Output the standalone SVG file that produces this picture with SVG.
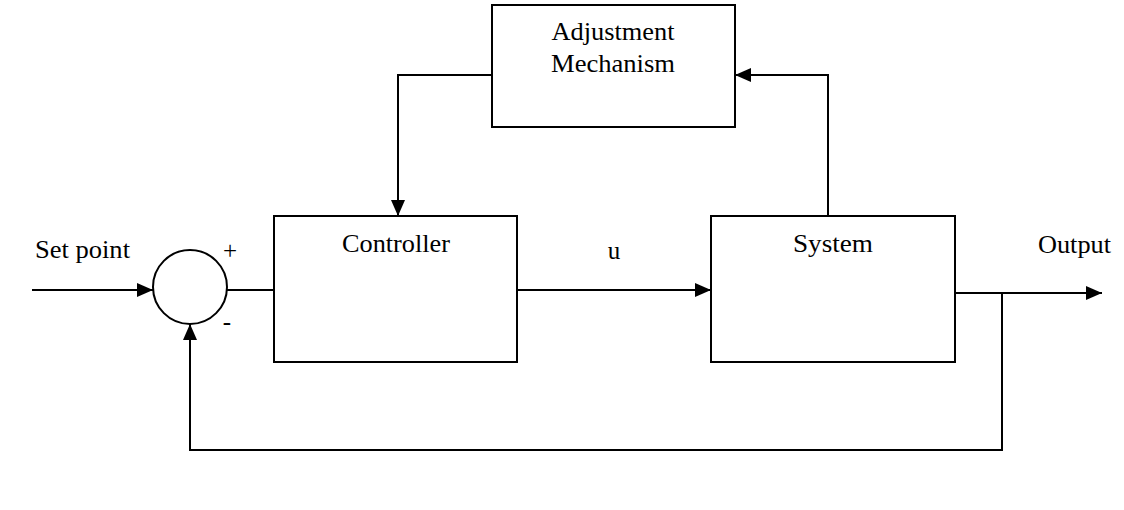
<svg xmlns="http://www.w3.org/2000/svg" width="1124" height="510" viewBox="0 0 1124 510">
  <style>
    .box { fill: #fff; stroke: #000; stroke-width: 2; }
    .wire { fill: none; stroke: #000; stroke-width: 2; }
    .lbl { font-family: "Liberation Serif", "Times New Roman", serif; font-size: 25px; fill: #000; }
  </style>
  <defs>
    <marker id="arrow" viewBox="0 0 16 14" refX="16" refY="7" markerWidth="16" markerHeight="14" markerUnits="userSpaceOnUse" orient="auto">
      <path d="M0,0 L16,7 L0,14 Z" fill="#000"/>
    </marker>
  </defs>

  <g id="connectors">
    <!-- set point into summing junction -->
    <line class="wire" x1="32" y1="290" x2="153" y2="290" marker-end="url(#arrow)"/>
    <!-- summing junction to controller -->
    <line class="wire" x1="227" y1="290" x2="274" y2="290"/>
    <!-- controller output u to system -->
    <line class="wire" x1="517" y1="290" x2="711" y2="290" marker-end="url(#arrow)"/>
    <!-- adjustment mechanism into controller -->
    <polyline class="wire" points="492,75 398,75 398,216" marker-end="url(#arrow)"/>
    <!-- system into adjustment mechanism -->
    <polyline class="wire" points="828,216 828,75 735,75" marker-end="url(#arrow)"/>
    <!-- system output -->
    <line class="wire" x1="955" y1="293" x2="1102" y2="293" marker-end="url(#arrow)"/>
    <!-- feedback path -->
    <polyline class="wire" points="1002,293 1002,450 190,450 190,324" marker-end="url(#arrow)"/>
  </g>

  <g id="sum">
    <circle class="box" cx="190" cy="287" r="37"/>
    <text class="lbl" x="230" y="259" text-anchor="middle" font-size="20">+</text>
    <text class="lbl" x="227" y="330" text-anchor="middle" font-size="18">-</text>
  </g>

  <g id="adjustment">
    <rect class="box" x="492" y="5" width="243" height="122"/>
    <text class="lbl" x="613" y="40" text-anchor="middle" textLength="123" lengthAdjust="spacingAndGlyphs">Adjustment</text>
    <text class="lbl" x="613" y="72" text-anchor="middle" textLength="124" lengthAdjust="spacingAndGlyphs">Mechanism</text>
  </g>

  <g id="controller">
    <rect class="box" x="274" y="216" width="243" height="146"/>
    <text class="lbl" x="396" y="252" text-anchor="middle" textLength="108" lengthAdjust="spacingAndGlyphs">Controller</text>
  </g>

  <g id="system">
    <rect class="box" x="711" y="216" width="244" height="146"/>
    <text class="lbl" x="833" y="252" text-anchor="middle" textLength="80" lengthAdjust="spacingAndGlyphs">System</text>
  </g>

  <g id="labels">
    <text class="lbl" x="35" y="258" textLength="95" lengthAdjust="spacingAndGlyphs">Set point</text>
    <text class="lbl" x="614" y="259" text-anchor="middle">u</text>
    <text class="lbl" x="1038" y="253" textLength="73" lengthAdjust="spacingAndGlyphs">Output</text>
  </g>
</svg>
